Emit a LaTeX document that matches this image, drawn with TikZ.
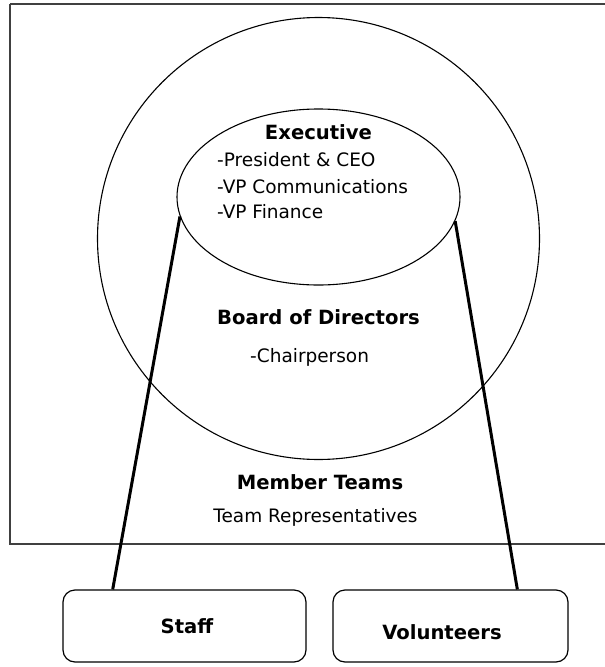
\documentclass[tikz,border=0pt]{standalone}
\usepackage{fontspec}
\setmainfont{DejaVu Sans}
\usetikzlibrary{calc,shapes.geometric}
\begin{document}
\begin{tikzpicture}[x=1pt,y=-1pt,
  ring/.style={draw=black,line width=1.1pt,inner sep=0pt},
  frame/.style={draw=black!75,line width=2.2pt},
  unitbox/.style={draw=black,line width=1.2pt,rounded corners=12pt,inner sep=0pt},
  link/.style={draw=black,line width=3pt},
  head/.style={font=\fontsize{19.6}{23}\selectfont\bfseries,inner sep=0pt},
  item/.style={font=\fontsize{18.5}{22}\selectfont,inner sep=0pt}]
\useasboundingbox (0,0) rectangle (605,667);
\fill[white] (0,0) rectangle (605,667);

% outer frame of the member teams (runs off the right edge)
\draw[frame] (10,4) -- (10,544) -- (620,544);
\draw[frame] (10,4) -- (620,4);

% board of directors circle and executive ellipse
\node[ring,circle,minimum size=442pt] (board) at (318.5,238.5) {};
\node[ring,ellipse,minimum width=283pt,minimum height=176pt] (exec) at (318.5,197) {};

% texts
\node[head,anchor=base] (exectitle) at (318.5,139) {Executive};
\node[item,anchor=base west] (pres) at (217,166.5) {-President \& CEO};
\node[item,anchor=base west] (vpc) at (217,193.5) {-VP Communications};
\node[item,anchor=base west] (vpf) at (217,218.5) {-VP Finance};
\node[head,anchor=base] (boardtitle) at (318.5,324) {Board of Directors};
\node[item,anchor=base west] (chair) at (250,362) {-Chairperson};
\node[head,anchor=base] (teamtitle) at (320,489) {Member Teams};
\node[item,anchor=base] (teamrep) at (315.5,522) {Team Representatives};

% lower boxes
\node[unitbox,minimum width=243pt,minimum height=72pt] (staff) at (184.5,626) {};
\node[unitbox,minimum width=235pt,minimum height=72pt] (vol) at (450.5,626) {};
\node[head,anchor=base] (stafftext) at (187,633) {Staff};
\node[head,anchor=base] (voltext) at (442,639) {Volunteers};

% connectors from the executive to staff and volunteers
\draw[link] (exec.188) -- ($(staff.north west)!0.206!(staff.north east)$);
\draw[link] (exec.350) -- ($(vol.north west)!0.783!(vol.north east)$);
\end{tikzpicture}
\end{document}
